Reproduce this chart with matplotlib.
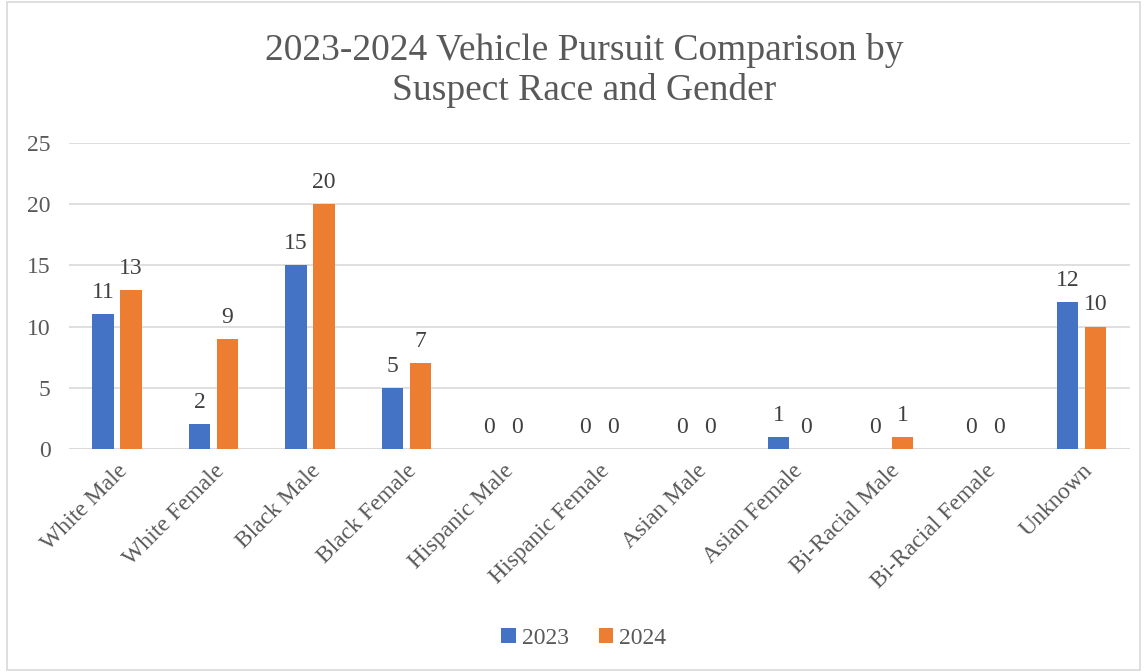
import numpy as np
import matplotlib
matplotlib.use("Agg")
import matplotlib.pyplot as plt
from matplotlib.patches import Rectangle

categories = ["White Male", "White Female", "Black Male", "Black Female",
              "Hispanic Male", "Hispanic Female", "Asian Male", "Asian Female",
              "Bi-Racial Male", "Bi-Racial Female", "Unknown"]
vals_2023 = [11, 2, 15, 5, 0, 0, 0, 1, 0, 0, 12]
vals_2024 = [13, 9, 20, 7, 0, 0, 0, 0, 1, 0, 10]

plt.rcParams['font.family'] = ['Liberation Serif', 'DejaVu Serif']
grey = '#595959'

fig = plt.figure(figsize=(11.45, 6.72), dpi=100)
fig.patches.append(Rectangle((0.006, 0.003), 0.99, 0.994, transform=fig.transFigure,
                             fill=False, edgecolor='#d9d9d9', linewidth=1.2))
ax = fig.add_axes([0.060, 0.332, 0.927, 0.455])

x = np.arange(len(categories))
w = 0.22
off = 0.145
b1 = ax.bar(x - off, vals_2023, w, color='#4472c4', label='2023', zorder=3)
b2 = ax.bar(x + off, vals_2024, w, color='#ed7d31', label='2024', zorder=3)

for bars in (b1, b2):
    ax.bar_label(bars, padding=8, fontsize=17, color='#404040')

ax.set_xlim(-0.5, len(categories) - 0.5)
ax.set_ylim(0, 25)
ax.set_yticks(range(0, 26, 5))
ax.yaxis.grid(True, color='#d9d9d9', linewidth=1.2, zorder=0)
ax.set_axisbelow(True)
for s in ax.spines.values():
    s.set_visible(False)
ax.axhline(0, color='#d9d9d9', linewidth=1.2, zorder=2)
ax.tick_params(axis='both', length=0, labelsize=17, labelcolor=grey)
ax.tick_params(axis='y', pad=13)
ax.set_xticks(x)
ax.set_xticklabels(categories, rotation=45, ha='right', rotation_mode='anchor')
ax.tick_params(axis='x', pad=8)

fig.text(0.51, 0.895, "2023-2024 Vehicle Pursuit Comparison by\nSuspect Race and Gender",
         ha='center', va='center', fontsize=27, color=grey, linespacing=1.2)

fig.legend(loc='center', bbox_to_anchor=(0.51, 0.05), ncol=2, frameon=False,
           fontsize=17, labelcolor=grey, handlelength=0.6, handleheight=0.6,
           handletextpad=0.25, columnspacing=1.3)

fig.savefig('out.png', dpi=100)
